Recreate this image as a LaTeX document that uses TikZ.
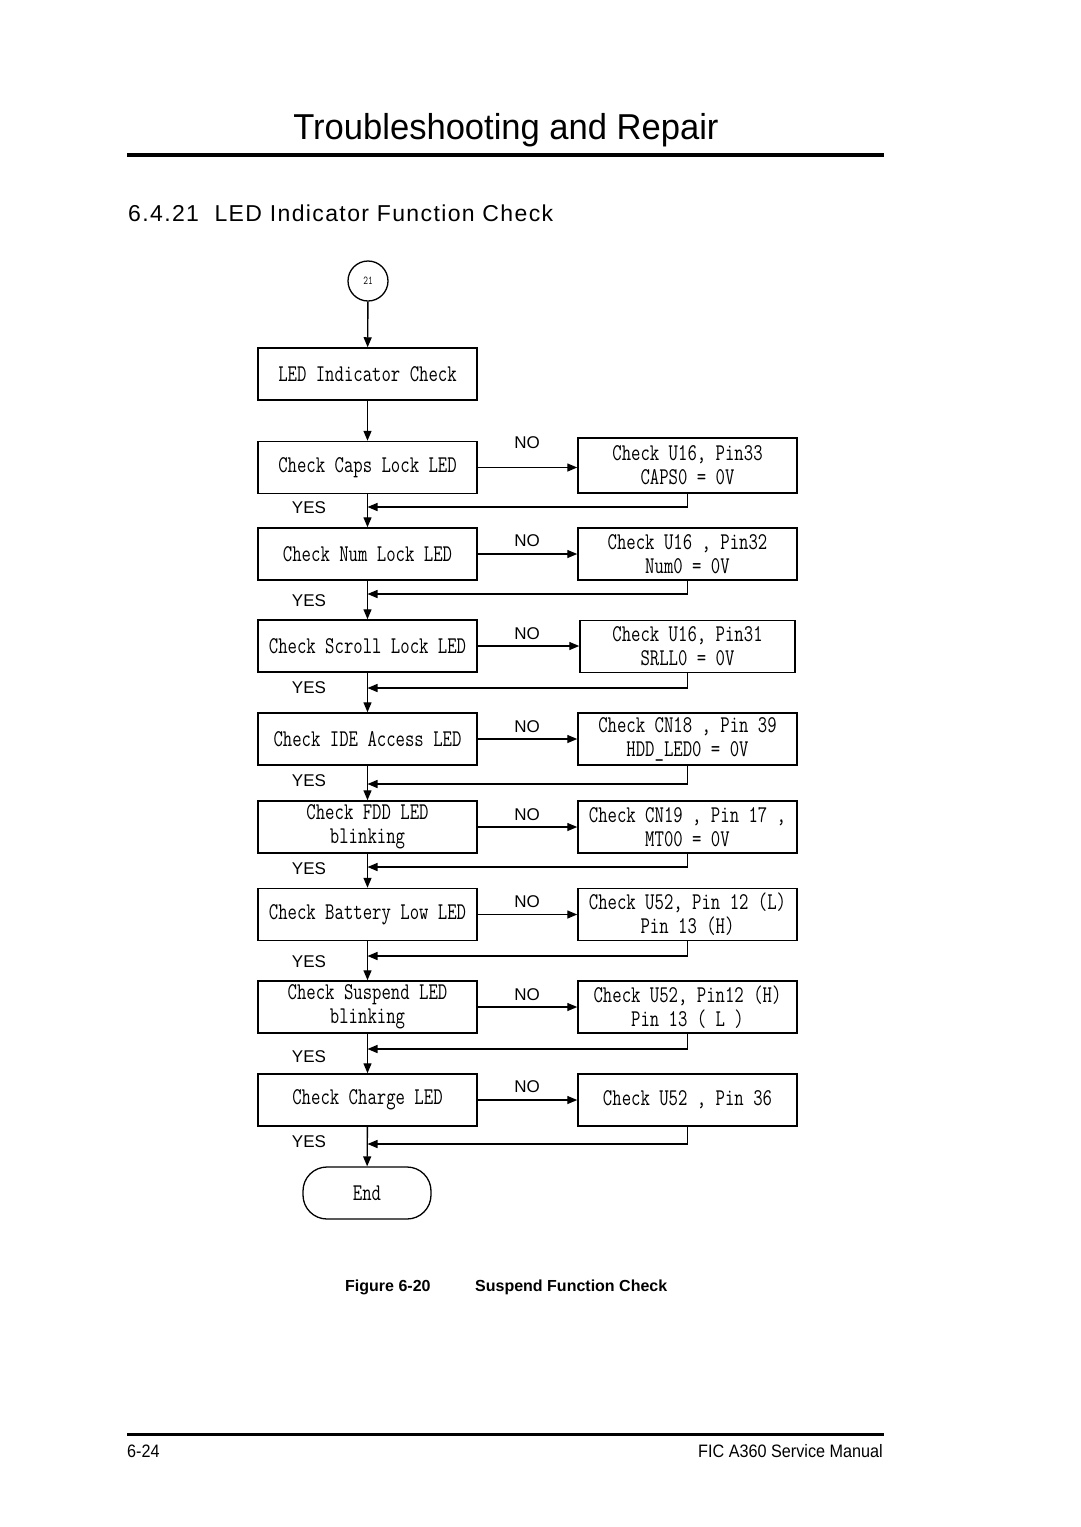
\documentclass[tikz,border=0pt]{standalone}
\usepackage{fontspec}
\setmainfont{Liberation Sans}
\newfontfamily\spacedfont[LetterSpace=6]{Liberation Sans}
\usetikzlibrary{arrows.meta}
\newcommand\dtx[1]{\scalebox{0.76}[1]{#1}}
\tikzset{
  box/.style={draw, line width=1.5pt, minimum width=219pt, minimum height=52pt, inner sep=0pt, align=center,
    font=\ttfamily\fontsize{24}{26}\selectfont},
  arr/.style={line width=1.4pt, -{Triangle[length=10pt,width=8pt]}},
  lbl/.style={font=\fontsize{17}{19}\selectfont, inner sep=0pt},
}
\begin{document}
\begin{tikzpicture}[x=1pt,y=-1pt]
\useasboundingbox (0,0) rectangle (1080,1527);
% header
\node[inner sep=0pt] (title) at (506,130) {\scalebox{0.96}[1]{\fontsize{36}{40}\selectfont Troubleshooting and Repair}};
\draw[line width=4pt] (127,155) -- (884,155);
\node[anchor=west, inner sep=0pt] (sec) at (128,213) {\spacedfont\fontsize{23}{26}\selectfont 6.4.21\ \ LED Indicator Function Check};
% start
\node[draw, circle, line width=1.3pt, minimum size=40pt, inner sep=0pt, font=\ttfamily\fontsize{12}{13}\selectfont] (c21) at (368,281) {\dtx{21}};
\node[box] (led) at (367.5,374) {\dtx{LED Indicator Check}};
% left column
\node[box] (l1) at (367.5,467.5) {\dtx{Check Caps Lock LED}};
\node[box] (l2) at (367.5,554) {\dtx{Check Num Lock LED}};
\node[box] (l3) at (367.5,646) {\dtx{Check Scroll Lock LED}};
\node[box] (l4) at (367.5,739) {\dtx{Check IDE Access LED}};
\node[box] (l5) at (367.5,827) {\dtx{Check FDD LED}\\[-2pt]\dtx{blinking}};
\node[box] (l6) at (367.5,914.5) {\dtx{Check Battery Low LED}};
\node[box] (l7) at (367.5,1007) {\dtx{Check Suspend LED}\\[-2pt]\dtx{blinking}};
\node[box] (l8) at (367.5,1100) {\dtx{Check Charge LED}};
% right column
\node[box, minimum height=55pt] (r1) at (687.5,465.5) {\dtx{Check U16, Pin33}\\[-2pt]\dtx{CAPS0 = 0V}};
\node[box] (r2) at (687.5,554) {\dtx{Check U16 , Pin32}\\[-2pt]\dtx{Num0 = 0V}};
\node[box, minimum width=215pt] (r3) at (687.5,646.5) {\dtx{Check U16, Pin31}\\[-2pt]\dtx{SRLL0 = 0V}};
\node[box] (r4) at (687.5,739) {\dtx{Check CN18 , Pin 39}\\[-2pt]\dtx{HDD\_LED0 = 0V}};
\node[box] (r5) at (687.5,827) {\dtx{Check CN19 , Pin 17 ,}\\[-2pt]\dtx{MT00 = 0V}};
\node[box] (r6) at (687.5,914.5) {\dtx{Check U52, Pin 12 (L)}\\[-2pt]\dtx{Pin 13 (H)}};
\node[box] (r7) at (687.5,1007) {\dtx{Check U52, Pin12 (H)}\\[-2pt]\dtx{Pin 13 ( L )}};
\node[box] (r8) at (687.5,1100) {\dtx{Check U52 , Pin 36}};
% end
\node[draw, line width=1.3pt, rounded corners=24pt, minimum width=128pt, minimum height=52pt, font=\ttfamily\fontsize{24}{26}\selectfont] (end) at (367,1193) {\dtx{End}};
% return join points
\coordinate (j1) at (367.5,507);
\coordinate (j2) at (367.5,594);
\coordinate (j3) at (367.5,688);
\coordinate (j4) at (367.5,784);
\coordinate (j5) at (367.5,867);
\coordinate (j6) at (367.5,956);
\coordinate (j7) at (367.5,1049);
\coordinate (j8) at (367.5,1144);
% main flow
\draw[arr] (c21) -- (led);
\draw[arr] (led) -- (l1);
\draw[arr] (l1) -- (l2);
\draw[arr] (l2) -- (l3);
\draw[arr] (l3) -- (l4);
\draw[arr] (l4) -- (l5);
\draw[arr] (l5) -- (l6);
\draw[arr] (l6) -- (l7);
\draw[arr] (l7) -- (l8);
\draw[arr] (l8) -- (end);
% NO branches
\foreach \i in {1,...,8} {
  \draw[arr] (l\i.east) -- (l\i.east -| r\i.west);
  \draw[arr] (r\i.south) |- (j\i);
}
% labels
\foreach \y in {443,541,634,727,815,902,995,1087} \node[lbl] at (527,\y) {NO};
\foreach \y in {508,601,688,781,869,962,1057,1142} \node[lbl] at (309,\y) {YES};
% caption
\node[anchor=west, inner sep=0pt, font=\bfseries\fontsize{16}{18}\selectfont] (figno) at (345,1287) {Figure 6-20};
\node[anchor=west, inner sep=0pt, font=\bfseries\fontsize{16}{18}\selectfont] (figcap) at (475,1287) {Suspend Function Check};
% footer
\draw[line width=3pt] (127,1434) -- (884,1434);
\node[anchor=west, inner sep=0pt] (pg) at (127,1451) {\scalebox{0.9}[1]{\fontsize{18}{20}\selectfont 6-24}};
\node[anchor=east, inner sep=0pt] (man) at (883,1451) {\scalebox{0.9}[1]{\fontsize{18}{20}\selectfont FIC A360 Service Manual}};
\end{tikzpicture}
\end{document}
